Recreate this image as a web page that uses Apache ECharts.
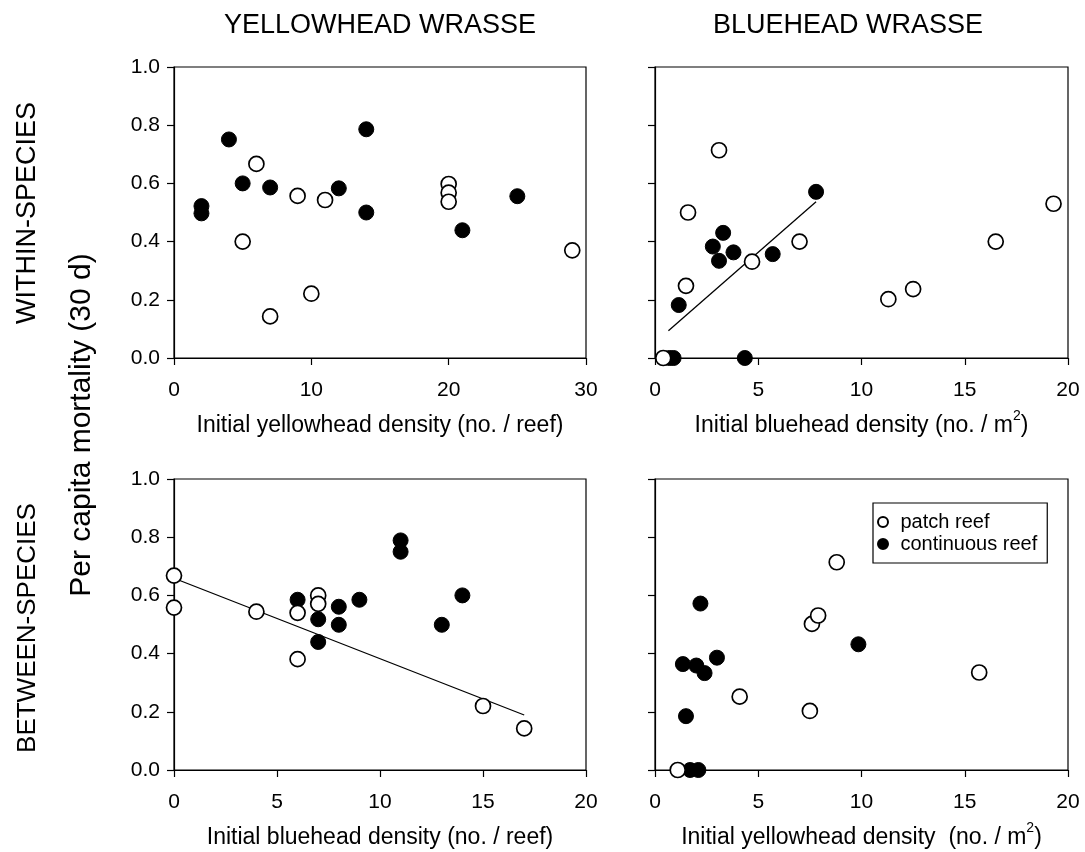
<!DOCTYPE html>
<html>
<head>
<meta charset="utf-8">
<script src="https://cdn.jsdelivr.net/npm/echarts@6/dist/echarts.min.js"></script>
<style>
html,body{margin:0;padding:0;background:#fff;}
#c{width:1085px;height:852px;}
</style>
</head>
<body>
<div id="c"></div>
<script>
// ---- data ----
const colTitles = ['YELLOWHEAD WRASSE', 'BLUEHEAD WRASSE'];
const rowTitles = ['WITHIN-SPECIES', 'BETWEEN-SPECIES'];
const yName = 'Per capita mortality (30 d)';
const xNames = [
  '{n|Initial yellowhead density (no. / reef)}',
  '{n|Initial bluehead density (no. / m}{s|2}{n|)}',
  '{n|Initial bluehead density (no. / reef)}',
  '{n|Initial yellowhead density  (no. / m}{s|2}{n|)}'
];
const xMax = [30, 20, 20, 20];
const xInterval = [10, 5, 5, 5];
const legendNames = ['patch reef', 'continuous reef'];

// top-left: within-species, yellowhead
const tlPatch = [[6,0.667],[5,0.40],[7,0.143],[9,0.557],[10,0.221],[11,0.543],[20,0.598],[20,0.568],[20,0.537],[29,0.37]];
const tlCont  = [[2,0.522],[2,0.497],[4,0.751],[5,0.60],[7,0.586],[12,0.583],[14,0.786],[14,0.50],[21,0.439],[25,0.556]];
// top-right: within-species, bluehead
const trPatch = [[0.4,0],[3.1,0.714],[1.6,0.50],[1.5,0.248],[4.7,0.331],[7.0,0.40],[11.3,0.202],[12.5,0.237],[16.5,0.40],[19.3,0.53]];
const trCont  = [[0.7,0],[0.9,0],[4.35,0],[1.15,0.182],[2.8,0.383],[3.3,0.43],[3.1,0.334],[3.8,0.363],[5.7,0.357],[7.8,0.571]];
const trFit   = [[0.65,0.094],[7.8,0.537]];
// bottom-left: between-species, yellowhead vs bluehead density
const blPatch = [[0,0.668],[0,0.558],[4,0.544],[6,0.54],[6,0.381],[7,0.60],[7,0.571],[15,0.22],[17,0.143]];
const blCont  = [[6,0.585],[7,0.518],[7,0.44],[8,0.561],[8,0.499],[9,0.585],[11,0.789],[11,0.75],[13,0.499],[14,0.60]];
const blFit   = [[0,0.659],[17,0.189]];
// bottom-right: between-species, bluehead vs yellowhead density
const brPatch = [[1.1,0],[4.1,0.252],[7.5,0.203],[7.6,0.502],[7.9,0.531],[8.8,0.714],[15.7,0.335]];
const brCont  = [[1.7,0],[2.1,0],[1.35,0.364],[2.0,0.359],[2.4,0.333],[3.0,0.386],[2.2,0.572],[1.5,0.185],[9.85,0.432]];

const patchSets = [tlPatch, trPatch, blPatch, brPatch];
const contSets = [tlCont, trCont, blCont, brCont];
const fitSets = [null, trFit, blFit, null];

// ---- layout ----
const FONT = '"Liberation Sans", Arial, sans-serif';
const grids = [
  {left:174, top:67, width:412, height:291},
  {left:655, top:67, width:413, height:291},
  {left:174, top:479, width:412, height:291},
  {left:655, top:479, width:413, height:291}
];

const xAxes = [], yAxes = [], series = [];
grids.forEach((g, i) => {
  xAxes.push({
    type:'value', gridIndex:i, min:0, max:xMax[i], interval:xInterval[i],
    name:xNames[i], nameLocation:'middle', nameGap:51,
    nameTextStyle:{fontFamily:FONT, fontSize:23, color:'#000',
      rich:{n:{fontFamily:FONT, fontSize:23, color:'#000', lineHeight:28, verticalAlign:'bottom'},
            s:{fontFamily:FONT, fontSize:14, color:'#000', lineHeight:14, verticalAlign:'top'}}},
    axisLine:{show:true, onZero:false, lineStyle:{color:'#000', width:1.2}},
    axisTick:{show:true, length:7, lineStyle:{color:'#000', width:1.2}},
    axisLabel:{show:true, margin:22, fontFamily:FONT, fontSize:21, color:'#000'},
    splitLine:{show:false}
  });
  yAxes.push({
    type:'value', gridIndex:i, min:0, max:1, interval:0.2,
    axisLine:{show:true, onZero:false, lineStyle:{color:'#000', width:1.2}},
    axisTick:{show:true, length:7, lineStyle:{color:'#000', width:1.2}},
    axisLabel:{show: i % 2 === 0, margin:14, fontFamily:FONT, fontSize:21, color:'#000',
      formatter: v => v.toFixed(1)},
    splitLine:{show:false}
  });
  if (fitSets[i]) {
    series.push({
      type:'line', xAxisIndex:i, yAxisIndex:i, data:fitSets[i], showSymbol:false,
      symbol:'none', lineStyle:{color:'#000', width:1.3}, z:1, silent:true
    });
  }
  series.push({
    name:legendNames[1], type:'scatter', xAxisIndex:i, yAxisIndex:i, data:contSets[i],
    symbol:'circle', symbolSize:15, clip:false, z:2,
    itemStyle:{color:'#000', borderColor:'#000', borderWidth:1, opacity:1}
  });
  series.push({
    name:legendNames[0], type:'scatter', xAxisIndex:i, yAxisIndex:i, data:patchSets[i],
    symbol:'circle', symbolSize:15, clip:false, z:3,
    itemStyle:{color:'#fff', borderColor:'#000', borderWidth:1.7, opacity:1}
  });
});

const graphics = [
  {type:'text', x:380, y:26, style:{text:colTitles[0], font:'27px ' + FONT, fill:'#000', textAlign:'center', textVerticalAlign:'middle'}},
  {type:'text', x:848, y:26, style:{text:colTitles[1], font:'27px ' + FONT, fill:'#000', textAlign:'center', textVerticalAlign:'middle'}},
  {type:'text', x:28, y:213, rotation:Math.PI/2, style:{text:rowTitles[0], font:'27px ' + FONT, fill:'#000', textAlign:'center', textVerticalAlign:'middle'}},
  {type:'text', x:28, y:628, rotation:Math.PI/2, style:{text:rowTitles[1], font:'26px ' + FONT, fill:'#000', textAlign:'center', textVerticalAlign:'middle'}},
  {type:'text', x:82, y:425, rotation:Math.PI/2, style:{text:yName, font:'30px ' + FONT, fill:'#000', textAlign:'center', textVerticalAlign:'middle'}}
];

const chart = echarts.init(document.getElementById('c'), null, {renderer:'canvas'});
chart.setOption({
  animation:false,
  backgroundColor:'#fff',
  grid: grids.map(g => Object.assign({show:true, borderColor:'#000', borderWidth:1.2, backgroundColor:'transparent', containLabel:false}, g)),
  xAxis:xAxes,
  yAxis:yAxes,
  legend:{
    data:legendNames, orient:'vertical', left:873, top:503,
    itemWidth:25, itemHeight:10, itemGap:2,
    padding:[9,10,9,4],
    borderColor:'#000', borderWidth:1.2, backgroundColor:'#fff',
    textStyle:{fontFamily:FONT, fontSize:20, color:'#000'},
    selectedMode:false
  },
  graphic:graphics,
  series:series
});
</script>
</body>
</html>
